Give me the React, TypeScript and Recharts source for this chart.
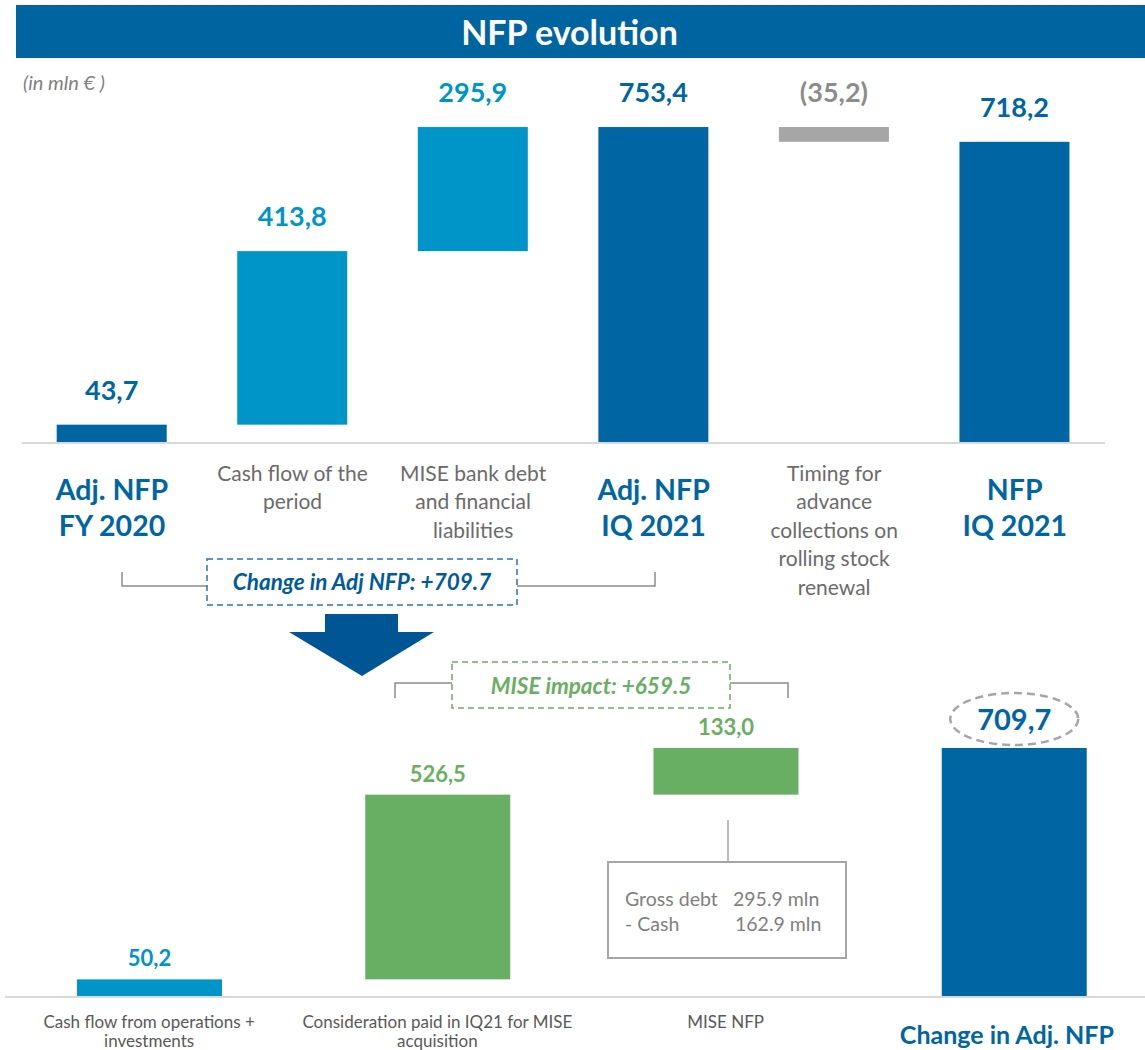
import { BarChart, Bar, XAxis, YAxis } from 'recharts'

const FONT = 'Lato, "Noto Sans", sans-serif'
const DARK = '#0065a3'
const LIGHT = '#0095c9'
const GREY = '#a6a6a6'
const GREEN = '#69af63'
const TEXT_GREY = '#6b6b6b'

// top waterfall
const topCategories = [
  'Adj. NFP\nFY 2020',
  'Cash flow of the\nperiod',
  'MISE bank debt\nand financial\nliabilities',
  'Adj. NFP\nIQ 2021',
  'Timing for\nadvance\ncollections on\nrolling stock\nrenewal',
  'NFP\nIQ 2021',
]
const topValues = [43.7, 413.8, 295.9, 753.4, -35.2, 718.2]
const topKinds = ['total', 'step', 'step', 'total', 'step', 'total']

// bottom waterfall
const bottomCategories = [
  'Cash flow from operations +\ninvestments',
  'Consideration paid in IQ21 for MISE\nacquisition',
  'MISE NFP',
  'Change in Adj. NFP',
]
const bottomValues = [50.2, 526.5, 133.0, 709.7]
const bottomKinds = ['step', 'mise', 'mise', 'total']

const yDomain = [0, 800]

function buildWaterfall(cats: string[], values: number[], kinds: string[]) {
  let running = 0
  return cats.map((name, i) => {
    const v = values[i]
    const kind = kinds[i]
    let base = 0
    if (kind === 'total') {
      running = v
    } else {
      base = Math.min(running, running + v)
      running += v
    }
    return { name, kind, value: v, base, size: Math.abs(v) }
  })
}

const topData = buildWaterfall(topCategories, topValues, topKinds)
const bottomData = buildWaterfall(bottomCategories, bottomValues, bottomKinds)

const fmt = (v: number) => {
  const s = Math.abs(v).toFixed(1).replace('.', ',')
  return v < 0 ? `(${s})` : s
}

function colorFor(kind: string, v: number) {
  if (kind === 'total') return DARK
  if (kind === 'mise') return GREEN
  return v < 0 ? GREY : LIGHT
}

function TopBar(props: any) {
  const { x, y, width, height, payload } = props
  const c = colorFor(payload.kind, payload.value)
  const lc = payload.value < 0 ? '#8c8c8c' : c
  return (
    <g>
      <rect x={x} y={y} width={width} height={height} fill={c} />
      <text x={x + width / 2} y={y - 25} textAnchor="middle" fontFamily={FONT} fontSize={27} fontWeight={700} fill={lc}>
        {fmt(payload.value)}
      </text>
    </g>
  )
}

function BottomBar(props: any) {
  const { x, y, width, height, payload } = props
  const c = colorFor(payload.kind, payload.value)
  const cx = x + width / 2
  if (payload.kind === 'total') {
    return (
      <g>
        <rect x={x} y={y} width={width} height={height} fill={c} />
        <ellipse cx={cx} cy={y - 29} rx={64} ry={26} fill="none" stroke={GREY} strokeWidth={2.5} strokeDasharray="8 5" />
        <text x={cx} y={y - 18} textAnchor="middle" fontFamily={FONT} fontSize={29} fontWeight={700} fill={c}>
          {fmt(payload.value)}
        </text>
      </g>
    )
  }
  return (
    <g>
      <rect x={x} y={y} width={width} height={height} fill={c} />
      <text x={cx} y={y - 13} textAnchor="middle" fontFamily={FONT} fontSize={22} fontWeight={700} fill={c}>
        {fmt(payload.value)}
      </text>
    </g>
  )
}

function TopTick(props: any) {
  const { x, y, payload } = props
  const kind = topKinds[payload.index]
  const lines = String(payload.value).split('\n')
  const big = kind === 'total'
  const fs = big ? 28.5 : 21
  const first = big ? 47 : 30
  const lh = big ? 36 : 28.6
  return (
    <text textAnchor="middle" fontFamily={FONT} fontSize={fs} fontWeight={big ? 700 : 400} fill={big ? DARK : TEXT_GREY}>
      {lines.map((l, i) => (
        <tspan key={i} x={x} y={y + first + i * lh + fs * 0.36}>{l}</tspan>
      ))}
    </text>
  )
}

function BottomTick(props: any) {
  const { x, y, payload } = props
  const kind = bottomKinds[payload.index]
  const lines = String(payload.value).split('\n')
  const big = kind === 'total'
  const fs = big ? 25 : 17
  const first = big ? 38 : 25
  const lh = 19
  const cx = big ? x - 7 : x
  return (
    <text textAnchor="middle" fontFamily={FONT} fontSize={fs} fontWeight={big ? 700 : 400} fill={big ? DARK : '#595959'}>
      {lines.map((l, i) => (
        <tspan key={i} x={cx} y={y + first + i * lh + fs * 0.36}>{l}</tspan>
      ))}
    </text>
  )
}

function Annotations() {
  return (
    <svg width={1145} height={1050} style={{ position: 'absolute', left: 0, top: 0, pointerEvents: 'none' }}>
      {/* change in adj nfp bracket */}
      <path d="M122 572 V586 H655 V572" fill="none" stroke="#8c8c8c" strokeWidth={1.5} />
      <rect x={207} y={559} width={310} height={46} fill="#fff" stroke="#2a72b5" strokeWidth={1.5} strokeDasharray="6 4" />
      <text x={362} y={590} textAnchor="middle" fontFamily={FONT} fontSize={22.5} fontWeight={700} fontStyle="italic" fill="#005a9c">
        Change in Adj NFP: +709.7
      </text>
      <polygon points="325,614 398,614 398,632 434,632 362,676 289,632 325,632" fill="#005595" />
      {/* MISE bracket */}
      <path d="M395 698 V683 H788 V698" fill="none" stroke="#8c8c8c" strokeWidth={1.5} />
      <rect x={452} y={662} width={278} height={46} fill="#fff" stroke={GREEN} strokeWidth={1.5} strokeDasharray="6 4" />
      <text x={591} y={694} textAnchor="middle" fontFamily={FONT} fontSize={22.5} fontWeight={700} fontStyle="italic" fill={GREEN}>
        MISE impact: +659.5
      </text>
      {/* MISE NFP callout */}
      <line x1={728} y1={820} x2={728} y2={862} stroke={GREY} strokeWidth={1.5} />
      <rect x={608} y={862} width={238} height={96} fill="#fff" stroke={GREY} strokeWidth={2} />
      <g fontFamily={FONT} fontSize={19.5} fill="#7f7f7f">
        <text x={625} y={906}>Gross debt</text>
        <text x={733} y={906}>295.9 mln</text>
        <text x={625} y={931}>- Cash</text>
        <text x={735} y={931}>162.9 mln</text>
      </g>
    </svg>
  )
}

export default function App() {
  return (
    <div style={{ position: 'absolute', left: 0, top: 0, width: 1145, height: 1050, overflow: 'hidden', background: '#fff', fontFamily: FONT }}>
      <div
        style={{
          position: 'absolute', left: 16, top: 5, width: 1129, height: 53, background: '#0064a0',
          color: '#fff', fontSize: 34, fontWeight: 700, lineHeight: '53px', textAlign: 'center', paddingRight: 22, boxSizing: 'border-box',
        }}
      >
        NFP evolution
      </div>
      <div style={{ position: 'absolute', left: 23, top: 70, fontSize: 20, fontStyle: 'italic', color: '#7f7f7f' }}>(in mln € )</div>

      <div style={{ position: 'absolute', left: 0, top: 0 }}>
        <BarChart width={1145} height={620} data={topData} margin={{ top: 107.5, right: 40, left: 21.7, bottom: 0 }}>
          <YAxis hide domain={yDomain} />
          <XAxis
            dataKey="name"
            height={177}
            interval={0}
            tickLine={false}
            tickSize={0}
            tickMargin={0}
            axisLine={{ stroke: '#d9d9d9', strokeWidth: 2 }}
            tick={<TopTick />}
          />
          <Bar dataKey="base" stackId="w" fill="transparent" barSize={110} isAnimationActive={false} />
          <Bar dataKey="size" stackId="w" barSize={110} shape={<TopBar />} isAnimationActive={false} />
        </BarChart>
      </div>

      <div style={{ position: 'absolute', left: 0, top: 640 }}>
        <BarChart width={1160} height={410} data={bottomData} margin={{ top: 76.3, right: 2, left: 5, bottom: 0 }}>
          <YAxis hide domain={yDomain} />
          <XAxis
            dataKey="name"
            height={53}
            interval={0}
            tickLine={false}
            tickSize={0}
            tickMargin={0}
            axisLine={{ stroke: '#d9d9d9', strokeWidth: 2 }}
            tick={<BottomTick />}
          />
          <Bar dataKey="base" stackId="w" fill="transparent" barSize={145} isAnimationActive={false} />
          <Bar dataKey="size" stackId="w" barSize={145} shape={<BottomBar />} isAnimationActive={false} />
        </BarChart>
      </div>

      <Annotations />
    </div>
  )
}
